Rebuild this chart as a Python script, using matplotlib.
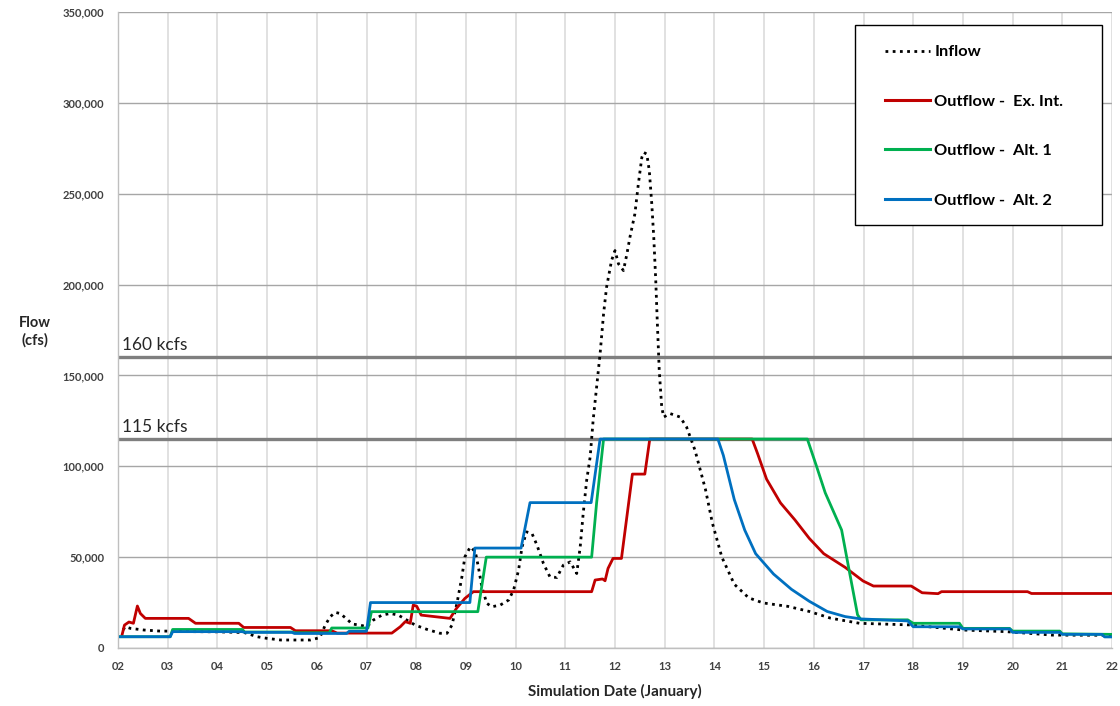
import matplotlib
matplotlib.use("Agg")
import matplotlib.pyplot as plt
from matplotlib.lines import Line2D
from matplotlib.patches import Rectangle
from matplotlib.ticker import FuncFormatter, MultipleLocator

plt.rcParams['font.family'] = ['Lato', 'DejaVu Sans']

# ---- data (day of January, flow in cfs) ----
inflow_day = [2.1, 2.15, 2.25, 2.52, 2.85, 3.06, 3.5, 4.0, 4.54, 4.8, 5.0, 5.27, 5.87, 6.06,
              6.17, 6.27, 6.37, 6.47, 6.61, 6.71, 6.87, 7.01, 7.14, 7.31, 7.48, 7.64, 7.81,
              7.98, 8.21, 8.48, 8.62, 8.72, 8.82, 8.92, 8.98, 9.09, 9.19, 9.25, 9.32, 9.42,
              9.52, 9.69, 9.86, 9.96, 10.06, 10.13, 10.22, 10.33, 10.43, 10.56, 10.69, 10.83,
              10.96, 11.1, 11.23, 11.3, 11.36, 11.43, 11.5, 11.56, 11.63, 11.7, 11.77, 11.83,
              11.93, 12.0, 12.07, 12.17, 12.24, 12.3, 12.4, 12.47, 12.54, 12.58, 12.64, 12.69,
              12.74, 12.78, 12.82, 12.85, 12.89, 12.94, 12.98, 13.11, 13.31, 13.44, 13.61,
              13.82, 13.96, 14.15, 14.4, 14.69, 14.98, 15.48, 15.91, 16.34, 16.92, 17.93,
              19.0, 19.87, 20.8, 22.0]
inflow_flow = [10000, 11700, 10800, 9900, 9300, 9300, 9000, 8900, 8500, 6200, 5300, 4400, 4400,
               5700, 12600, 17200, 19600, 19000, 15800, 13200, 12600, 11700, 15400, 18100,
               19000, 18100, 15400, 12600, 10300, 8100, 8100, 12600, 24600, 39200, 50200,
               55700, 52900, 44700, 33700, 24600, 22700, 23600, 26400, 31900, 42900, 55700,
               63900, 63000, 56600, 46500, 39200, 38800, 45600, 47400, 41000, 55700, 74000,
               92300, 105100, 125300, 143600, 161900, 183900, 198500, 213200, 218700, 211400,
               207700, 216900, 226000, 238900, 255400, 270000, 272700, 271800, 262700, 244400,
               226000, 202200, 180200, 152800, 132600, 127100, 129000, 127100, 121600, 108800,
               87300, 68700, 50000, 35100, 27600, 24800, 22900, 20100, 16400, 13600, 12700,
               9900, 9000, 7100, 7000]

exint_day = [2.08, 2.13, 2.22, 2.31, 2.39, 2.45, 2.55, 3.42, 3.56, 4.43, 4.53, 5.47, 5.57, 6.3,
             6.41, 7.51, 7.68, 7.78, 7.88, 7.94, 8.01, 8.1, 8.68, 8.81, 8.98, 9.15, 11.53,
             11.6, 11.75, 11.8, 11.86, 11.96, 12.13, 12.35, 12.6, 12.7, 14.76, 14.87, 15.05,
             15.33, 15.62, 15.91, 16.2, 16.63, 16.99, 17.2, 17.96, 18.18, 18.5, 18.57, 20.3,
             20.38, 22.0]
exint_flow = [7000, 12600, 14300, 13600, 23100, 19000, 16300, 16300, 13600, 13600, 11300, 11300,
              9500, 9500, 8200, 8200, 11700, 14500, 13600, 23600, 23000, 18100, 16300, 21800,
              27300, 31000, 31000, 37400, 38000, 37000, 43800, 49300, 49300, 95700, 95700,
              115000, 115000, 106900, 92900, 79850, 70500, 60300, 51900, 44400, 36900, 34100,
              34100, 30400, 29900, 31000, 31000, 30000, 30000]

alt1_day = [2.05, 3.05, 3.1, 4.5, 4.55, 5.5, 5.55, 6.25, 6.3, 7.03, 7.1, 9.24, 9.41, 11.53,
            11.63, 11.77, 15.87, 16.05, 16.23, 16.56, 16.7, 16.88, 16.95, 17.89, 18.0, 18.93,
            19.0, 19.94, 20.0, 20.95, 21.0, 22.0]
alt1_flow = [6200, 6200, 10200, 10200, 8800, 8800, 8400, 8400, 11000, 11000, 20000, 20000,
             50000, 50000, 79850, 115000, 115000, 100400, 85400, 64900, 44400, 18300, 15500,
             15500, 13600, 13600, 10800, 10800, 9300, 9300, 7800, 7500]

alt2_day = [2.05, 3.05, 3.1, 4.5, 4.55, 5.5, 5.55, 6.6, 6.65, 7.0, 7.08, 9.08, 9.18, 10.11,
            10.29, 11.52, 11.7, 14.07, 14.18, 14.4, 14.61, 14.83, 15.19, 15.55, 15.91, 16.27,
            16.63, 16.95, 17.89, 18.0, 18.93, 19.0, 19.94, 20.0, 20.95, 21.0, 21.8, 21.85, 22.0]
alt2_flow = [6200, 6200, 9000, 9000, 8600, 8600, 8000, 8000, 9200, 9200, 25000, 25000, 55000,
             55000, 80000, 80000, 115000, 115000, 106000, 81700, 64900, 51900, 40700, 32300,
             25700, 20100, 17300, 16000, 14900, 11700, 11700, 10500, 10500, 8600, 8600, 7500,
             7500, 6100, 6100]

thresholds = [160000, 115000]
threshold_labels = ["160 kcfs", "115 kcfs"]

series_labels = ["Inflow", "Outflow -  Ex. Int.", "Outflow -  Alt. 1", "Outflow -  Alt. 2"]
series_colors = ["#000000", "#C00000", "#00B050", "#0070C0"]

# ---- figure ----
W, H = 1120, 706
fig = plt.figure(figsize=(W / 100, H / 100), dpi=100)
fig.patch.set_facecolor("white")
ax = fig.add_axes([118 / W, 1 - 648 / H, (1112 - 118) / W, (648 - 12) / H])

ax.set_xlim(2, 22)
ax.set_ylim(0, 350000)

# grid
ax.xaxis.set_major_locator(MultipleLocator(1))
ax.yaxis.set_major_locator(MultipleLocator(50000))
ax.grid(axis="x", color="#d9d9d9", lw=1.1, zorder=0)
ax.grid(axis="y", color="#a6a6a6", lw=1.0, zorder=0)
ax.set_axisbelow(True)
for side in ["top", "right"]:
    ax.spines[side].set_visible(False)
for side in ["left", "bottom"]:
    ax.spines[side].set_color("#bfbfbf")
    ax.spines[side].set_linewidth(1.0)

ax.xaxis.set_major_formatter(FuncFormatter(lambda v, p: f"{int(round(v)):02d}"))
ax.yaxis.set_major_formatter(FuncFormatter(lambda v, p: f"{int(v):,}"))
ax.tick_params(axis="both", length=0, labelsize=8, labelcolor="#404040")
ax.tick_params(axis="y", pad=10)
ax.tick_params(axis="x", pad=9)
for lab in ax.get_xticklabels() + ax.get_yticklabels():
    lab.set_fontweight("bold")

# threshold lines with labels
for val, txt in zip(thresholds, threshold_labels):
    ax.axhline(val, color="#7f7f7f", lw=2.4, zorder=1)
    ax.annotate(txt, xy=(2, val), xytext=(3, 3), textcoords="offset points",
                ha="left", va="bottom", fontsize=12.5, color="#262626")

# series
ax.plot(inflow_day, inflow_flow, color=series_colors[0], lw=2.0,
        linestyle=(0, (1, 1.6)), zorder=3)
ax.plot(exint_day, exint_flow, color=series_colors[1], lw=2.0, zorder=4)
ax.plot(alt1_day, alt1_flow, color=series_colors[2], lw=2.0, zorder=5)
ax.plot(alt2_day, alt2_flow, color=series_colors[3], lw=2.0, zorder=6)

# legend
fig.patches.append(Rectangle((855 / W, 1 - 225 / H), (1102 - 855) / W, (225 - 25) / H,
                             transform=fig.transFigure, facecolor="white",
                             edgecolor="black", lw=1.0, zorder=10))
handles = [
    Line2D([], [], color=series_colors[0], lw=2.0, linestyle=(0, (1, 1.6))),
    Line2D([], [], color=series_colors[1], lw=2.2),
    Line2D([], [], color=series_colors[2], lw=2.2),
    Line2D([], [], color=series_colors[3], lw=2.2),
]
leg = fig.legend(handles, series_labels, loc="upper left",
                 bbox_to_anchor=(885 / W, 1 - 45 / H), frameon=False,
                 prop={"weight": "bold", "size": 11.8}, labelspacing=2.13,
                 handlelength=2.75, handletextpad=0.25, borderpad=0, borderaxespad=0)
leg.set_zorder(11)
for t in leg.get_texts():
    t.set_color("#000000")

# axis titles
fig.text(35 / W, 1 - 332 / H, "Flow\n(cfs)", ha="center", va="center",
         fontsize=10.5, fontweight="bold", color="#262626", linespacing=1.3)
fig.text(615 / W, 1 - 691 / H, "Simulation Date (January)", ha="center", va="center",
         fontsize=11, fontweight="bold", color="#262626")

fig.savefig("out.png", dpi=100)
